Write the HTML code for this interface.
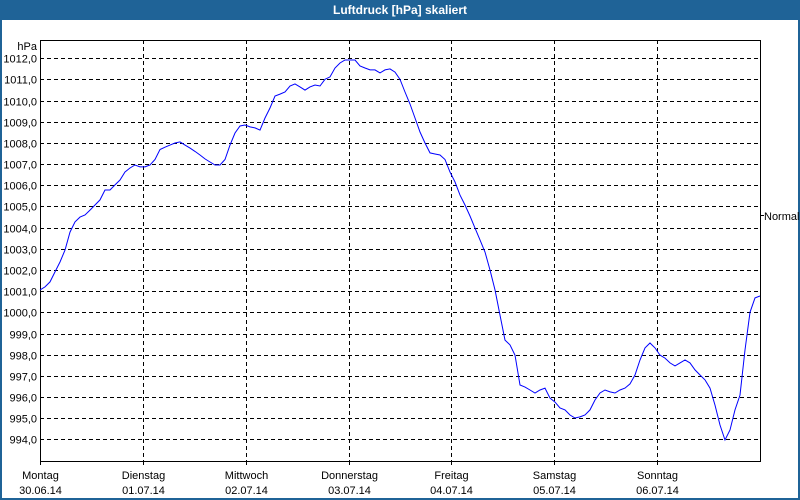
<!DOCTYPE html>
<html><head><meta charset="utf-8"><style>
body{margin:0;width:800px;height:500px;overflow:hidden;background:#fff;font-family:"Liberation Sans",sans-serif}
#frame{position:absolute;left:0;top:0;width:796px;height:478px;border:2px solid #1f6397;border-top:none;top:20px}
#title{position:absolute;left:0;top:0;width:800px;height:20px;background:#1f6397;color:#fff;font-weight:bold;font-size:12px;line-height:20px;text-align:center}
</style></head><body>
<div id="title">Luftdruck [hPa] skaliert</div>
<div id="frame"></div>
<svg id="c" width="800" height="500" style="position:absolute;left:0;top:0"></svg>
<script>
const dayNames=["Montag","Dienstag","Mittwoch","Donnerstag","Freitag","Samstag","Sonntag"];
const dayDates=["30.06.14","01.07.14","02.07.14","03.07.14","04.07.14","05.07.14","06.07.14"];
const yTicks=[994,995,996,997,998,999,1000,1001,1002,1003,1004,1005,1006,1007,1008,1009,1010,1011,1012];
const pressure=[1001.06,1001.20,1001.44,1001.91,1002.38,1002.94,1003.79,1004.27,1004.50,1004.60,1004.83,1005.07,1005.31,1005.78,1005.78,1006.02,1006.25,1006.63,1006.82,1006.96,1006.87,1006.87,1006.96,1007.22,1007.69,1007.80,1007.90,1008.00,1008.05,1007.90,1007.76,1007.60,1007.43,1007.25,1007.10,1006.96,1006.96,1007.22,1007.90,1008.47,1008.80,1008.85,1008.76,1008.71,1008.61,1009.18,1009.65,1010.22,1010.31,1010.41,1010.69,1010.79,1010.65,1010.50,1010.65,1010.74,1010.69,1011.01,1011.12,1011.54,1011.78,1011.92,1011.92,1011.92,1011.64,1011.54,1011.45,1011.45,1011.31,1011.45,1011.50,1011.35,1011.01,1010.41,1009.84,1009.18,1008.52,1008.00,1007.53,1007.48,1007.43,1007.22,1006.63,1006.16,1005.54,1005.07,1004.55,1003.98,1003.42,1002.85,1002.00,1001.06,999.87,998.69,998.46,997.98,996.57,996.47,996.33,996.19,996.33,996.42,995.95,995.76,995.48,995.39,995.15,995.01,995.06,995.15,995.39,995.86,996.19,996.33,996.24,996.19,996.33,996.42,996.62,997.04,997.75,998.32,998.55,998.32,997.98,997.84,997.61,997.47,997.61,997.75,997.61,997.28,997.04,996.81,996.42,995.62,994.68,993.97,994.44,995.39,996.09,998.22,1000.00,1000.68,1000.77];
const L=40,R=760,T=40,B=461;
const hoursTotal=168;
const xs=h=>L+h/hoursTotal*(R-L);
const ys=v=>58.3+(1012-v)*21.17;
const svg=document.getElementById('c');
const NS='http://www.w3.org/2000/svg';
function mk(t,a){const e=document.createElementNS(NS,t);for(const k in a)e.setAttribute(k,a[k]);svg.appendChild(e);return e;}
yTicks.forEach(v=>{
  const y=Math.round(ys(v))+0.5;
  const g=mk('line',{x1:L,x2:R,y1:y,y2:y,stroke:'#000','stroke-dasharray':'4,3'});
  
  
  const t=mk('text',{x:37,y:y+4,'text-anchor':'end','font-size':'11'});
  t.textContent=v.toFixed(1).replace('.',',');
  
  
});
dayNames.forEach((d,i)=>{
  const x=Math.round(xs(i*24))+0.5;
  if(i>0){const g=mk('line',{x1:x,x2:x,y1:T,y2:B,stroke:'#000','stroke-dasharray':'4,3'});
  
  }
  const tk=mk('line',{x1:x,x2:x,y1:B,y2:B+4,stroke:'#000'});
  
  
  const t1=mk('text',{x:x,y:479,'text-anchor':'middle','font-size':'11'});t1.textContent=d;
  
  
  const t2=mk('text',{x:x,y:494,'text-anchor':'middle','font-size':'11'});t2.textContent=dayDates[i];
  
  
});
const ax=mk('path',{d:`M${L+0.5},${T}V${B+0.5}H${R+0.5}V${T+0.5}H${L}`,fill:'none',stroke:'#000'});


const hp=mk('text',{x:37,y:50,'text-anchor':'end','font-size':'11'});hp.textContent='hPa';


const nt=mk('line',{x1:761,x2:764,y1:215.5,y2:215.5,stroke:'#000'});


const nl=mk('text',{x:764,y:220,'font-size':'11'});nl.textContent='Normal';


const step=hoursTotal*5/720;
const pts=pressure.map((v,i)=>xs(i*step).toFixed(1)+','+ys(v).toFixed(1)).join(' ');
const pl=mk('polyline',{points:pts,fill:'none',stroke:'#0000ff','stroke-width':'1'});


</script>
</body></html>
